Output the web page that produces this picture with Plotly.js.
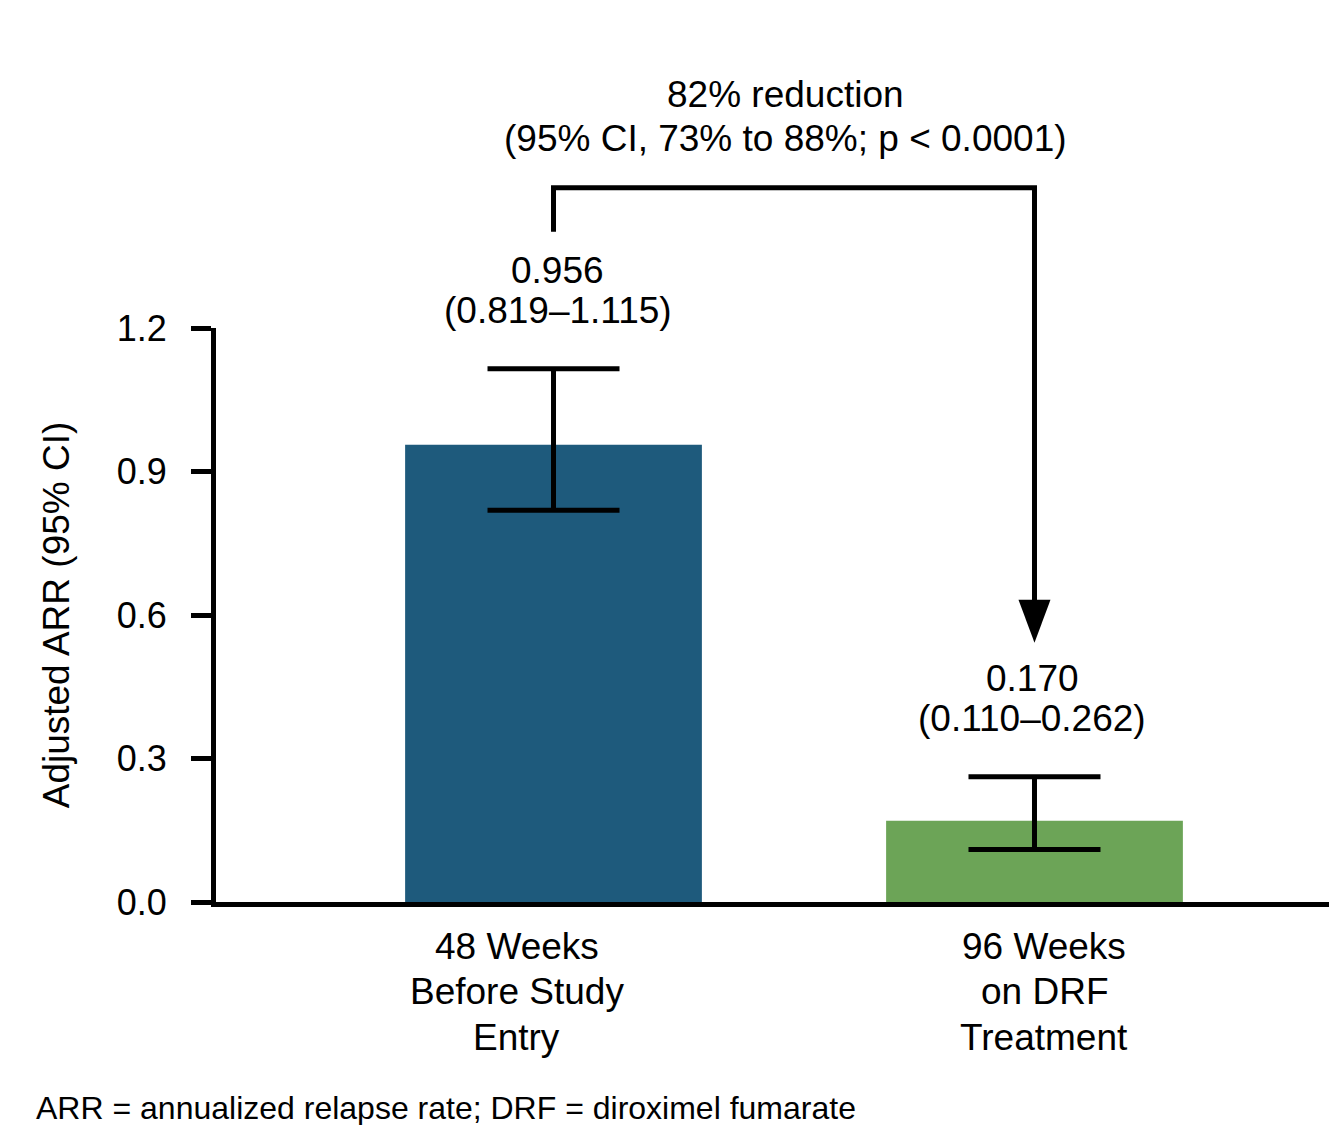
<!DOCTYPE html>
<html><head><meta charset="utf-8">
<script src="https://cdn.plot.ly/plotly-3.0.1.min.js"></script>
<style>html,body{margin:0;padding:0;background:#fff}</style>
</head><body><div id="chart" style="width:1329px;height:1125px"></div>
<script>
// ---- data ----
const categories = ["48 Weeks<br>Before Study<br>Entry", "96 Weeks<br>on DRF<br>Treatment"];
const arrValues = [0.956, 0.170];
const ciLower = [0.819, 0.110];
const ciUpper = [1.115, 0.262];
const valueLabels = ["0.956", "0.170"];
const ciLabels = ["(0.819–1.115)", "(0.110–0.262)"];
const reductionLines = ["82% reduction", "(95% CI, 73% to 88%; p < 0.0001)"];
const yTickVals = [0, 0.3, 0.6, 0.9, 1.2];
const yTickText = ["0.0", "0.3", "0.6", "0.9", "1.2"];
const yTitle = "Adjusted ARR (95% CI)";
const footnote = "ARR = annualized relapse rate; DRF = diroximel fumarate";
const barColors = ["#1E5A7C", "#6CA457"];

// ---- layout geometry (style) ----
const W = 1329, H = 1125;
const M = {l: 216, r: 0, t: 328, b: 223};
const plotW = W - M.l - M.r, plotH = H - M.t - M.b;
const yRange = [0, 1.2];
const xRange = [-0.7017, 1.6123];
const pxY = plotH / (yRange[1] - yRange[0]);
const pxX = plotW / (xRange[1] - xRange[0]);
const FONT = "Liberation Sans, Arial, Helvetica, sans-serif";
const black = "#000000";
// data -> paper fraction (so marks above the plot area are not clipped/hidden)
const xp = v => (v - xRange[0]) / (xRange[1] - xRange[0]);
const yp = v => (v - yRange[0]) / (yRange[1] - yRange[0]);

const xIdx = categories.map((c, i) => i);

const trace = {
  type: "bar",
  x: xIdx,
  y: arrValues,
  width: 0.617,
  marker: {color: barColors, line: {width: 0}},
  error_y: {
    type: "data", symmetric: false,
    array: ciUpper.map((u, i) => u - arrValues[i]),
    arrayminus: ciLower.map((l, i) => arrValues[i] - l),
    color: black, thickness: 5, width: 66
  },
  hoverinfo: "skip",
  cliponaxis: false
};

// bracket geometry derived from CI uppers + pixel offsets
const legBottom = ciUpper[0] + 137 / pxY;
const bracketTop = ciUpper[0] + 181 / pxY;
const tipY = ciUpper[1] + 134 / pxY;
const headLen = 43 / pxY;
const headHalf = 16 / pxX;

const shapes = [
  {type: "path", xref: "paper", yref: "paper",
   path: `M ${xp(xIdx[0])},${yp(legBottom)} L ${xp(xIdx[0])},${yp(bracketTop)} L ${xp(xIdx[1])},${yp(bracketTop)} L ${xp(xIdx[1])},${yp(tipY + headLen * 0.9)}`,
   line: {color: black, width: 5}},
  {type: "path", xref: "paper", yref: "paper",
   path: `M ${xp(xIdx[1] - headHalf)},${yp(tipY + headLen)} L ${xp(xIdx[1] + headHalf)},${yp(tipY + headLen)} L ${xp(xIdx[1])},${yp(tipY)} Z`,
   fillcolor: black, line: {color: black, width: 0}}
];

const annotations = [];
const valShiftX = [4, -2];
xIdx.forEach((x, i) => {
  annotations.push({x: xp(x), y: yp(ciUpper[i]), xref: "paper", yref: "paper", text: valueLabels[i], showarrow: false,
    xanchor: "center", yanchor: "middle", yshift: 98, xshift: valShiftX[i], font: {size: 37, color: black, family: FONT}});
  annotations.push({x: xp(x), y: yp(ciUpper[i]), xref: "paper", yref: "paper", text: ciLabels[i], showarrow: false,
    xanchor: "center", yanchor: "middle", yshift: 58, xshift: valShiftX[i], font: {size: 37, color: black, family: FONT}});
});
const redShifts = [93, 49];
reductionLines.forEach((t, k) => {
  annotations.push({x: xp((xIdx[0] + xIdx[1]) / 2), y: yp(bracketTop), xref: "paper", yref: "paper", text: t, showarrow: false,
    xanchor: "center", yanchor: "middle", yshift: redShifts[k], xshift: -9, font: {size: 37, color: black, family: FONT}});
});
const catShiftX = [-37, 10];
categories.forEach((c, i) => {
  c.split("<br>").forEach((line, k) => {
    annotations.push({x: xp(xIdx[i]), y: 0, xref: "paper", yref: "paper", text: line, showarrow: false,
      xanchor: "center", yanchor: "middle", yshift: -(44 + k * 45.5), xshift: catShiftX[i], font: {size: 37, color: black, family: FONT}});
  });
});
annotations.push({x: (34 - M.l) / plotW, y: 0, xref: "paper", yref: "paper", text: footnote, showarrow: false,
  xanchor: "left", yanchor: "middle", yshift: -(1108 - (H - M.b)), font: {size: 32, color: black, family: FONT}});

const layout = {
  width: W, height: H,
  margin: M,
  paper_bgcolor: "#ffffff", plot_bgcolor: "#ffffff",
  font: {family: FONT, color: black},
  showlegend: false,
  xaxis: {range: xRange, showline: true, linewidth: 5, linecolor: black, ticks: "", showticklabels: false,
          showgrid: false, zeroline: false, fixedrange: true},
  yaxis: {range: yRange, tickvals: yTickVals, ticktext: yTickText, ticks: "outside", ticklen: 20, tickwidth: 5,
          tickcolor: black, showline: true, linewidth: 5, linecolor: black, showgrid: false, zeroline: false,
          tickfont: {size: 36, color: black, family: FONT}, ticklabelstandoff: 17,
          title: {text: yTitle, font: {size: 37, color: black, family: FONT}, standoff: 37}, fixedrange: true},
  shapes: shapes,
  annotations: annotations
};

Plotly.newPlot("chart", [trace], layout, {displayModeBar: false, staticPlot: true});
</script></body></html>
